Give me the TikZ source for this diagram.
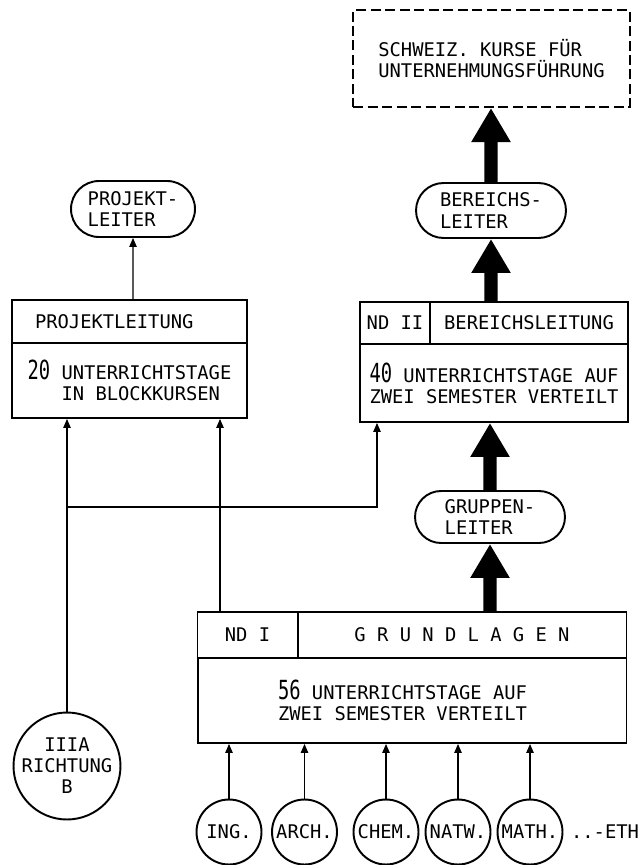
\documentclass[tikz,border=0pt]{standalone}
\usepackage{fontspec}
\setmonofont{DejaVu Sans Mono}
\usepackage{graphicx}
\usetikzlibrary{arrows.meta,shapes.misc}
\newcommand{\ziffer}[1]{\scalebox{1}[1.4]{#1}}
\tikzset{
  every node/.style={font=\ttfamily\fontsize{10.7}{12}\selectfont, inner sep=0pt},
  kasten/.style={draw, line width=1.1pt, rectangle},
  leiter/.style={draw, line width=1.1pt, rounded rectangle, align=left},
  fach/.style={draw, line width=1.1pt, circle, minimum size=1.3cm},
  duenn/.style={line width=0.6pt, -{Triangle[length=1.8mm,width=1.5mm]}},
  dick/.style={line width=7.5pt, -{Triangle[length=6.8mm,width=7.4mm]}},
}

\begin{document}
\begin{tikzpicture}[x=0.02cm, y=-0.02cm]
      \useasboundingbox (0,0) rectangle (637,865);
      \node[kasten, dash pattern=on 2mm off 0.9mm, line width=1.2pt, minimum width=5.54cm, minimum height=1.94cm, align=left] (kurse) at (491.5,58.5) {SCHWEIZ. KURSE FÜR\\UNTERNEHMUNGSFÜHRUNG}; % Kurse oben
      \node[leiter, minimum width=3cm, minimum height=1.1cm] (bleiter) at (491,210.5) {BEREICHS-\\LEITER}; % Bereichsleiter
      \node[leiter, minimum width=2.48cm, minimum height=1.12cm] (pleiter) at (133,209) {PROJEKT-\\LEITER}; % Projektleiter

%%% Projektleitung links
      \node[kasten, minimum width=4.7cm, minimum height=0.86cm, text width=3.78cm, align=left] (pkopf) at (129.5,321.5) {PROJEKTLEITUNG};
      \node[kasten, minimum width=4.7cm, minimum height=1.5cm, align=left] (pkurs) at (129.5,380.5) {\ziffer{20} UNTERRICHTSTAGE\\\hphantom{20 }IN BLOCKKURSEN};

%%% ND II rechts
      \node[kasten, minimum width=1.4cm, minimum height=0.84cm] (ndzwei) at (395,323) {ND II};
      \node[kasten, minimum width=3.96cm, minimum height=0.84cm] (bleitung) at (529,323) {BEREICHSLEITUNG};
      \node[kasten, minimum width=5.36cm, minimum height=1.56cm, align=left] (bkurs) at (494,383) {\ziffer{40} UNTERRICHTSTAGE AUF\\ZWEI SEMESTER VERTEILT};
      \node[leiter, minimum width=3cm, minimum height=1.04cm] (gleiter) at (490,517) {GRUPPEN-\\LEITER}; % Gruppenleiter

%%% ND I unten
      \node[kasten, minimum width=2cm, minimum height=0.92cm] (ndeins) at (247.5,635) {ND I};
      \node[kasten, minimum width=6.58cm, minimum height=0.92cm] (grundlagen) at (462,635) {G R U N D L A G E N};
      \node[kasten, minimum width=8.58cm, minimum height=1.7cm, text width=5.36cm, align=left] (gkurs) at (412,700.5) {\spaceskip=0pt\relax\ziffer{56} UNTERRICHTSTAGE AUF\\ZWEI SEMESTER VERTEILT};
      \node[fach, minimum size=2.14cm, align=center] (richtung) at (67,766) {IIIA\\RICHTUNG\\B}; % Richtung B
      \node (eth) at (605,832) {..-ETH};

      % Abteilungen
      \foreach \name/\x/\txt in {ing/229/ING., arch/304.5/ARCH., chem/386/CHEM., natw/458/NATW., math/530/MATH.}{
        \node[fach] (\name) at (\x,832) {\txt};
        \draw[duenn] (\name) -- (\name |- gkurs.south);
      }

      \coordinate (abzweig) at (67,507);
      \coordinate (knick) at (377,507);
      \coordinate (zweig) at (220,612);
      \draw[duenn] (richtung) -- (richtung |- pkurs.south); % Wiring
      \draw[duenn] (abzweig) -- (knick) -- (knick |- bkurs.south); % Wiring
      \draw[duenn] (zweig) -- (zweig |- pkurs.south); % Wiring
      \draw[duenn] (pleiter.south |- pkopf.north) -- (pleiter); % Wiring

      \draw[dick] (gleiter.south |- grundlagen.north) -- (gleiter); % dicke Pfeile
      \draw[dick] (gleiter) -- (gleiter |- bkurs.south);
      \draw[dick] (bleiter |- bleitung.north) -- (bleiter);
      \draw[dick] (bleiter) -- (bleiter |- kurse.south);
\end{tikzpicture}
\end{document}
